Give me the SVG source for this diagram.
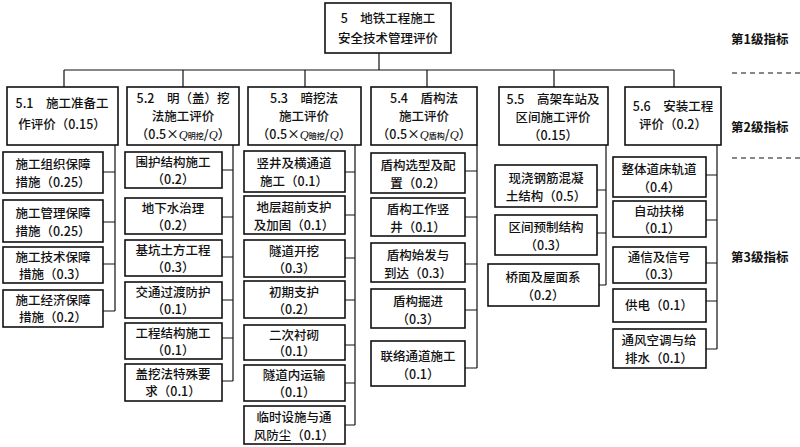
<svg xmlns="http://www.w3.org/2000/svg" width="800" height="447" viewBox="0 0 800 447">
<style>
rect{fill:#fff;stroke:#111;stroke-width:1.6}
text{font-family:"Noto Sans CJK SC","Liberation Serif",sans-serif;font-size:12.5px;fill:#111;text-anchor:middle;font-weight:500}
.l{fill:none;stroke:#111;stroke-width:1.2}
.d{fill:none;stroke:#111;stroke-width:1;stroke-dasharray:5,4}
.s{font-size:8px}
.i{font-family:"Liberation Serif",serif;font-style:italic}
.r{text-anchor:start;font-weight:700}
</style>
<rect width="800" height="447" style="fill:#fff;stroke:none"/>
<g id="connectors">
<path class="l" d="M379 53V70M64 70H674M64 70V87M183 70V87M305 70V87M427 70V87M554 70V87M674 70V87"/>
<path class="l" d="M115 145V311M103 172H115M103 222H115M103 264H115M103 311H115"/>
<path class="l" d="M233 145V381M222 170H233M222 217H233M222 257H233M222 300H233M222 338H233M222 381H233"/>
<path class="l" d="M355 145V425M345 172H355M345 215H355M345 258H355M345 300H355M345 345H355M345 383H355M345 425H355"/>
<path class="l" d="M477 145V368M465 171H477M465 217H477M465 264H477M465 310H477M465 368H477"/>
<path class="l" d="M606 145V285M597 190H606M597 233H606M599 285H606"/>
<path class="l" d="M717 145V349M706 175H717M706 220H717M706 263H717M706 301H717M706 349H717"/>
</g>
<g id="n5"><rect x="325" y="3" width="126" height="50"/><text x="388" y="23">5　地铁工程施工</text><text x="388" y="43">安全技术管理评价</text></g>
<g id="n51"><rect x="7" y="87" width="111" height="58"/><text x="62" y="108">5.1　施工准备工</text><text x="62" y="129">作评价（0.15）</text></g>
<g id="n52"><rect x="127" y="87" width="112" height="58"/><text x="183" y="103">5.2　明（盖）挖</text><text x="183" y="121">法施工评价</text><text x="183" y="139">（0.5×<tspan class="i">Q</tspan><tspan class="s">明挖</tspan>/<tspan class="i">Q</tspan>）</text></g>
<g id="n53"><rect x="248" y="87" width="113" height="58"/><text x="304" y="103">5.3　暗挖法</text><text x="304" y="121">施工评价</text><text x="304" y="139">（0.5×<tspan class="i">Q</tspan><tspan class="s">暗挖</tspan>/<tspan class="i">Q</tspan>）</text></g>
<g id="n54"><rect x="371" y="87" width="106" height="58"/><text x="424" y="103">5.4　盾构法</text><text x="424" y="121">施工评价</text><text x="424" y="139">（0.5×<tspan class="i">Q</tspan><tspan class="s">盾构</tspan>/<tspan class="i">Q</tspan>）</text></g>
<g id="n55"><rect x="499" y="87" width="109" height="58"/><text x="553" y="104">5.5　高架车站及</text><text x="553" y="122">区间施工评价</text><text x="553" y="140">（0.15）</text></g>
<g id="n56"><rect x="625" y="87" width="96" height="58"/><text x="673" y="111">5.6　安装工程</text><text x="673" y="129">评价（0.2）</text></g>

<g id="a1"><rect x="3" y="152" width="100" height="41"/><text x="53" y="169">施工组织保障</text><text x="53" y="187">措施（0.25）</text></g>
<g id="a2"><rect x="3" y="200" width="100" height="42"/><text x="53" y="218">施工管理保障</text><text x="53" y="236">措施（0.25）</text></g>
<g id="a3"><rect x="3" y="247" width="100" height="36"/><text x="53" y="262">施工技术保障</text><text x="53" y="279">措施（0.3）</text></g>
<g id="a4"><rect x="3" y="290" width="100" height="37"/><text x="53" y="305">施工经济保障</text><text x="53" y="322">措施（0.2）</text></g>

<g id="b1"><rect x="125" y="152" width="97" height="36"/><text x="173" y="167">围护结构施工</text><text x="173" y="184">（0.2）</text></g>
<g id="b2"><rect x="125" y="198" width="97" height="36"/><text x="173" y="213">地下水治理</text><text x="173" y="230">（0.2）</text></g>
<g id="b3"><rect x="125" y="240" width="97" height="36"/><text x="173" y="255">基坑土方工程</text><text x="173" y="272">（0.3）</text></g>
<g id="b4"><rect x="125" y="282" width="97" height="36"/><text x="173" y="297">交通过渡防护</text><text x="173" y="314">（0.1）</text></g>
<g id="b5"><rect x="125" y="323" width="97" height="36"/><text x="173" y="338">工程结构施工</text><text x="173" y="355">（0.1）</text></g>
<g id="b6"><rect x="125" y="364" width="97" height="37"/><text x="173" y="379">盖挖法特殊要</text><text x="173" y="396">求（0.1）</text></g>

<g id="c1"><rect x="244" y="151" width="101" height="41"/><text x="294" y="168">竖井及横通道</text><text x="294" y="186">施工（0.1）</text></g>
<g id="c2"><rect x="244" y="196" width="101" height="38"/><text x="294" y="212">地层超前支护</text><text x="294" y="230">及加固（0.1）</text></g>
<g id="c3"><rect x="244" y="240" width="101" height="37"/><text x="294" y="256">隧道开挖</text><text x="294" y="273">（0.3）</text></g>
<g id="c4"><rect x="244" y="281" width="101" height="37"/><text x="294" y="297">初期支护</text><text x="294" y="314">（0.2）</text></g>
<g id="c5"><rect x="244" y="325" width="101" height="35"/><text x="294" y="340">二次衬砌</text><text x="294" y="356">（0.1）</text></g>
<g id="c6"><rect x="244" y="365" width="101" height="36"/><text x="294" y="380">隧道内运输</text><text x="294" y="397">（0.1）</text></g>
<g id="c7"><rect x="244" y="406" width="101" height="38"/><text x="294" y="422">临时设施与通</text><text x="294" y="440">风防尘（0.1）</text></g>

<g id="d1"><rect x="371" y="153" width="94" height="40"/><text x="418" y="170">盾构选型及配</text><text x="418" y="188">置（0.2）</text></g>
<g id="d2"><rect x="371" y="198" width="94" height="38"/><text x="418" y="214">盾构工作竖</text><text x="418" y="232">井（0.1）</text></g>
<g id="d3"><rect x="371" y="243" width="94" height="39"/><text x="418" y="260">盾构始发与</text><text x="418" y="278">到达（0.3）</text></g>
<g id="d4"><rect x="371" y="289" width="94" height="39"/><text x="418" y="306">盾构掘进</text><text x="418" y="324">（0.3）</text></g>
<g id="d5"><rect x="371" y="341" width="94" height="45"/><text x="418" y="361">联络通道施工</text><text x="418" y="379">（0.1）</text></g>

<g id="e1"><rect x="495" y="165" width="102" height="42"/><text x="546" y="183">现浇钢筋混凝</text><text x="546" y="201">土结构（0.5）</text></g>
<g id="e2"><rect x="495" y="215" width="102" height="40"/><text x="546" y="232">区间预制结构</text><text x="546" y="250">（0.3）</text></g>
<g id="e3"><rect x="488" y="264" width="111" height="42"/><text x="543" y="282">桥面及屋面系</text><text x="543" y="300">（0.2）</text></g>

<g id="f1"><rect x="613" y="157" width="93" height="40"/><text x="659" y="174">整体道床轨道</text><text x="659" y="192">（0.4）</text></g>
<g id="f2"><rect x="613" y="201" width="93" height="36"/><text x="659" y="216">自动扶梯</text><text x="659" y="233">（0.1）</text></g>
<g id="f3"><rect x="613" y="247" width="93" height="36"/><text x="659" y="262">通信及信号</text><text x="659" y="279">（0.3）</text></g>
<g id="f4"><rect x="613" y="289" width="93" height="33"/><text x="659" y="310">供电（0.1）</text></g>
<g id="f5"><rect x="613" y="329" width="93" height="39"/><text x="659" y="345">通风空调与给</text><text x="659" y="363">排水（0.1）</text></g>

<g id="levels">
<text class="r" x="731" y="44">第1级指标</text>
<path class="d" d="M732 73H800M732 158H800"/>
<text class="r" x="731" y="132">第2级指标</text>
<text class="r" x="731" y="262">第3级指标</text>
</g>
</svg>
